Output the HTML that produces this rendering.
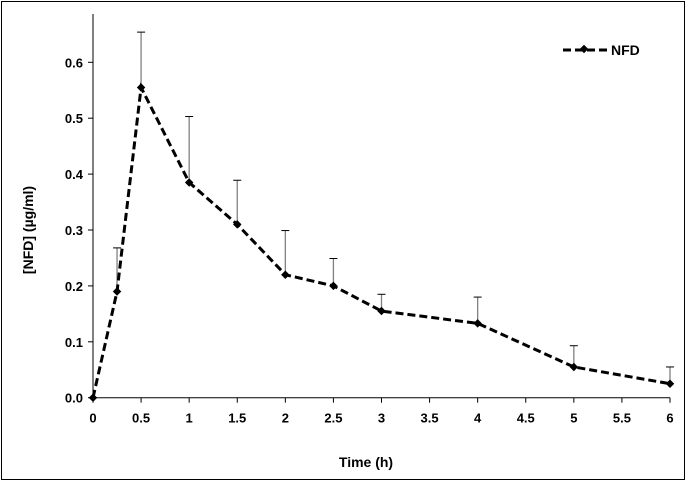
<!DOCTYPE html>
<html><head><meta charset="utf-8"><style>
html,body{margin:0;padding:0;background:#fff;}
svg{display:block;font-family:"Liberation Sans",Arial,sans-serif;}
</style></head><body>
<svg width="686" height="482" viewBox="0 0 686 482">
<rect x="1.5" y="1.5" width="683" height="478" fill="#fff" stroke="#000" stroke-width="1"/>
<g id="axes"></g>
<g id="marks"></g>
<text x="366" y="467" text-anchor="middle" font-size="14" font-weight="bold">Time (h)</text>
<text transform="translate(33,230) rotate(-90)" text-anchor="middle" font-size="14" font-weight="bold">[NFD]  (µg/ml)</text>
<g>
<line x1="563" y1="50" x2="607" y2="50" stroke="#000" stroke-width="3" stroke-dasharray="8,4"/>
<rect x="581" y="46" width="6" height="6" transform="rotate(45 584 49)" fill="#000"/>
<text x="611" y="55" font-size="14" font-weight="bold">NFD</text>
</g>
</svg>
<script>
const times=[0,0.25,0.5,1,1.5,2,2.5,3,4,5,6];
const conc=[0,0.19,0.555,0.385,0.31,0.22,0.2,0.155,0.133,0.055,0.025];
const errTop=[0,0.268,0.654,0.503,0.389,0.299,0.249,0.185,0.18,0.093,0.055];
const xTicks=[0,0.5,1,1.5,2,2.5,3,3.5,4,4.5,5,5.5,6];
const yTicks=[0,0.1,0.2,0.3,0.4,0.5,0.6];
const NS="http://www.w3.org/2000/svg";
const X0=93,X1=670,Y0=397.7,YT=14;
const xs=t=>X0+(X1-X0)*t/6;
const ys=v=>Y0-v*559;
function mk(tag,attrs,parent){const e=document.createElementNS(NS,tag);for(const k in attrs)e.setAttribute(k,attrs[k]);parent.appendChild(e);return e;}
const ax=document.getElementById('axes'),mg=document.getElementById('marks');
let e=mk('line',{x1:X0,y1:YT,x2:X0,y2:Y0,stroke:'#000'},ax);


e=mk('line',{x1:X0,y1:Y0,x2:X1,y2:Y0,stroke:'#000'},ax);


xTicks.forEach(t=>{
 const l=mk('line',{x1:xs(t),y1:Y0,x2:xs(t),y2:Y0+5,stroke:'#000'},ax);
 
 
 const tx=mk('text',{x:xs(t),y:Y0+25,'text-anchor':'middle','font-size':13,'font-weight':'bold'},ax);
 tx.textContent=String(t);
 
 
});
yTicks.forEach(v=>{
 const l=mk('line',{x1:X0-5,y1:ys(v),x2:X0,y2:ys(v),stroke:'#000'},ax);
 
 
 const tx=mk('text',{x:X0-10,y:ys(v)+5,'text-anchor':'end','font-size':13,'font-weight':'bold'},ax);
 tx.textContent=v.toFixed(1);
 
 
});
times.forEach((t,i)=>{
 if(errTop[i]<=conc[i])return;
 const l=mk('line',{x1:xs(t),y1:ys(conc[i]),x2:xs(t),y2:ys(errTop[i]),stroke:'#808080','stroke-width':1.3},mg);
 
 
 const c=mk('line',{x1:xs(t)-4,y1:ys(errTop[i]),x2:xs(t)+4,y2:ys(errTop[i]),stroke:'#000'},mg);
 
 
});
const p=mk('polyline',{points:times.map((t,i)=>xs(t)+','+ys(conc[i])).join(' '),fill:'none',stroke:'#000','stroke-width':3,'stroke-dasharray':'8,4'},mg);


times.forEach((t,i)=>{
 const r=mk('rect',{x:xs(t)-3,y:ys(conc[i])-3,width:6,height:6,fill:'#000',transform:`rotate(45 ${xs(t)} ${ys(conc[i])})`},mg);
 
 
});
</script>
</body></html>
